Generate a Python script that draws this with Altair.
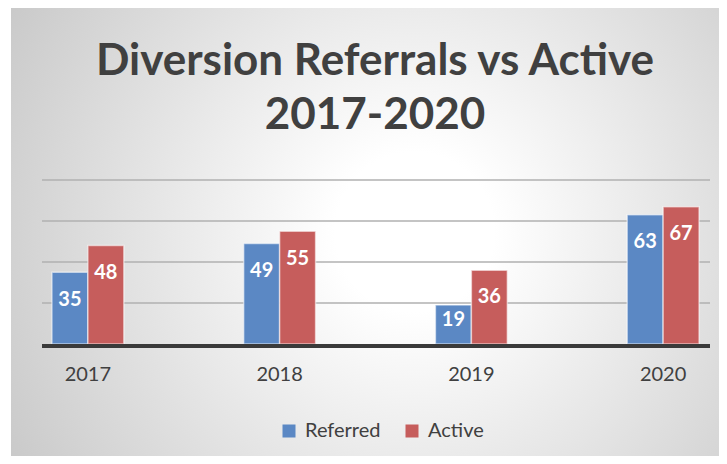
import altair as alt
import pandas as pd

years = ["2017", "2018", "2019", "2020"]
referred = [35, 49, 19, 63]
active = [48, 55, 36, 67]
series = ["Referred", "Active"]
colors = ["#5b88c4", "#c65d5c"]
y_ticks = [20, 40, 60, 80]
title_text = "Diversion Referrals vs Active\n2017-2020"

rows = []
for i, yr in enumerate(years):
    rows.append({"year": yr, "series": "Referred", "value": referred[i]})
    rows.append({"year": yr, "series": "Active", "value": active[i]})
df = pd.DataFrame(rows)

W, H = 668, 164
PAD = {"left": 34, "top": 172, "right": 9, "bottom": 112}

x_enc = alt.X("year:N", sort=years, title=None,
              scale=alt.Scale(range=[-50, 717], paddingInner=0.625, paddingOuter=0.3125),
              axis=alt.Axis(labelAngle=0, labelFont="Lato", labelFontSize=20, labelColor="#404040",
                            domain=False, ticks=False, labelPadding=20, grid=False, zindex=1))
xoff = alt.XOffset("series:N", sort=series, scale=alt.Scale(paddingInner=0, paddingOuter=0))
y_scale = alt.Scale(domain=[0, 80], nice=False)
y_enc = alt.Y("value:Q", title=None, scale=y_scale, axis=None)

bg = alt.Chart(pd.DataFrame({"a": [0]})).mark_rect(
    color=alt.Gradient(
        gradient="radial", x1=0.57, y1=0.5, r1=0.0, x2=0.57, y2=0.5, r2=0.75,
        stops=[alt.GradientStop(color="#ffffff", offset=0.0),
               alt.GradientStop(color="#ffffff", offset=0.15),
               alt.GradientStop(color="#c0c0c0", offset=1.0)]),
).encode(x=alt.value(-31), x2=alt.value(W + PAD["right"]),
         y=alt.value(-PAD["top"]), y2=alt.value(H + PAD["bottom"]))

grid = alt.Chart(pd.DataFrame({"v": y_ticks})).mark_rule(
    color="#b0b0b0", strokeWidth=1.5
).encode(x=alt.value(0), x2=alt.value(W), y=alt.Y("v:Q", scale=y_scale, axis=None))

bars = alt.Chart(df).mark_bar(stroke="#ffffff", strokeOpacity=0.55, strokeWidth=1.5).encode(
    x=x_enc, xOffset=xoff, y=y_enc,
    color=alt.Color("series:N", sort=series,
                    scale=alt.Scale(domain=series, range=colors),
                    legend=alt.Legend(title=None, orient="none", direction="horizontal",
                                      legendX=237, legendY=241,
                                      symbolType="square", symbolSize=169, symbolStrokeWidth=0,
                                      labelFont="Lato", labelFontSize=20, labelColor="#404040",
                                      labelOffset=6, columnPadding=21)),
)

labels = alt.Chart(df).transform_calculate(
    ly="datum.value >= 25 ? datum.value - 13.3 : datum.value * 0.62"
).mark_text(font="Lato", fontWeight="bold", fontSize=20, color="white", baseline="middle").encode(
    x=alt.X("year:N", sort=years), xOffset=alt.XOffset("series:N", sort=series),
    y=alt.Y("ly:Q"), text=alt.Text("value:Q"),
)

baseline = alt.Chart(pd.DataFrame({"v": [0]})).mark_rule(
    color="#3a3a3a", strokeWidth=4, yOffset=2
).encode(x=alt.value(0), x2=alt.value(W), y=alt.Y("v:Q"))

title = alt.Chart(pd.DataFrame({"t": [title_text]})).mark_text(
    font="Lato", fontSize=44, fontWeight="bold", color="#404040",
    lineBreak="\n", lineHeight=54, align="center", baseline="alphabetic"
).encode(x=alt.value(W / 2 - 1), y=alt.value(-105), text="t:N")

chart = alt.layer(bg, grid, bars, labels, baseline, title).properties(
    width=W, height=H,
    autosize=alt.AutoSizeParams(type="none"),
    padding=PAD,
).configure_view(stroke=None).configure(background="white")

chart.save("out.html", embed_options={"renderer": "svg", "actions": False})
